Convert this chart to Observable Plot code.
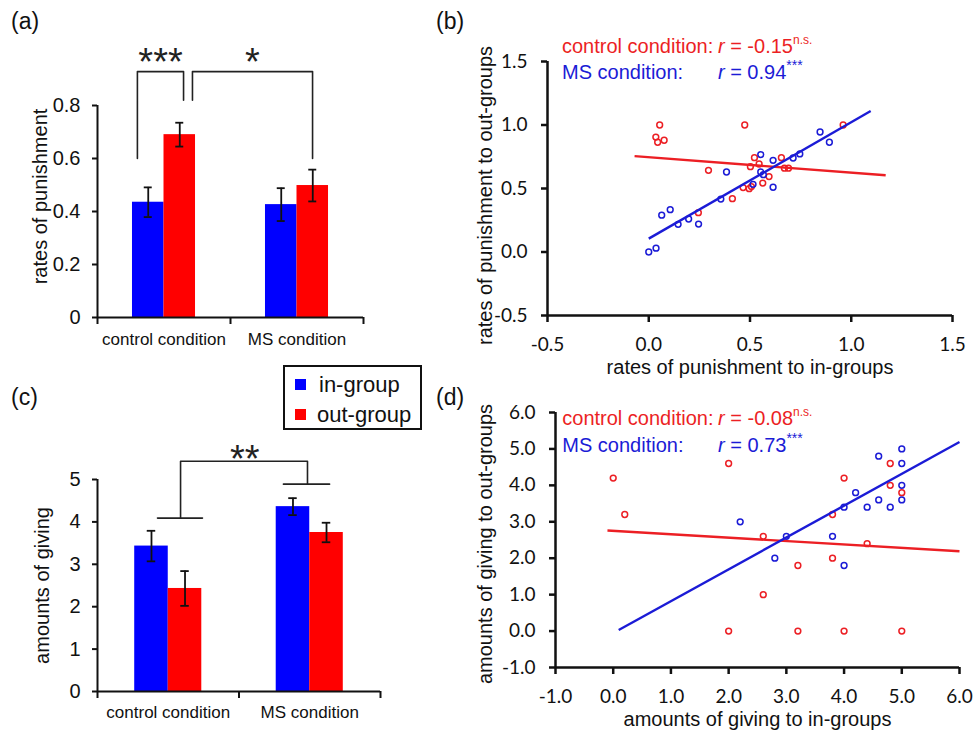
<!DOCTYPE html>
<html><head><meta charset="utf-8">
<script src="https://cdn.jsdelivr.net/npm/d3@7"></script>
<script src="https://cdn.jsdelivr.net/npm/@observablehq/plot@0.6"></script>
<style>
body{margin:0;background:#fff}
#fig{position:relative;width:977px;height:732px;overflow:hidden;font-family:"Liberation Sans",Arial,sans-serif;color:#111}
.plabel{position:absolute;font-size:23px;line-height:1.15}
#legend{position:absolute;left:283px;top:365px;width:139px;height:65px;border:2px solid #111;box-sizing:border-box;background:#fff}
#legend .sw{position:absolute;width:11px;height:11px}
#legend .lt{position:absolute;font-size:22px;line-height:1.15;white-space:nowrap}
</style></head>
<body><div id="fig"></div>
<script>
// ---------- data ----------
const conditions = ["control condition", "MS condition"];
const groups = ["in-group", "out-group"];
// (a) rates of punishment
const punishIn = [0.435, 0.426];
const punishInSE = [0.056, 0.062];
const punishOut = [0.690, 0.498];
const punishOutSE = [0.045, 0.060];
const punishTicks = [0, 0.2, 0.4, 0.6, 0.8];
// (c) amounts of giving
const givingIn = [3.43, 4.36];
const givingInSE = [0.36, 0.20];
const givingOut = [2.43, 3.75];
const givingOutSE = [0.41, 0.23];
const givingTicks = [0, 1, 2, 3, 4, 5];
// (b) punishment scatter
const bControlIn  = [0.054,0.035,0.044,0.076,0.474,0.960,0.295,0.413,0.245,0.522,0.545,0.502,0.655,0.594,0.563,0.466,0.496,0.507,0.670,0.690];
const bControlOut = [1.000,0.905,0.864,0.880,1.000,1.000,0.643,0.420,0.310,0.743,0.693,0.672,0.743,0.594,0.543,0.507,0.499,0.515,0.660,0.660];
const bMSIn  = [0.000,0.036,0.064,0.106,0.145,0.197,0.246,0.356,0.384,0.553,0.614,0.553,0.566,0.515,0.614,0.713,0.746,0.846,0.892];
const bMSOut = [0.000,0.030,0.290,0.333,0.218,0.260,0.220,0.417,0.630,0.767,0.722,0.630,0.609,0.533,0.510,0.740,0.772,0.945,0.864];
const bControlFit = {x: [-0.07, 1.17], y: [0.755, 0.604]};
const bMSFit = {x: [0.0, 1.096], y: [0.105, 1.11]};
const bTicks = [-0.5, 0, 0.5, 1.0, 1.5];
// (d) giving scatter
const dControlIn  = [0.0,0.2,2.0,2.6,2.6,3.2,3.8,3.8,4.0,4.4,4.8,4.8,5.0,2.0,3.2,4.0,5.0];
const dControlOut = [4.2,3.2,4.6,2.6,1.0,1.8,3.2,2.0,4.2,2.4,4.6,4.0,3.8,0.0,0.0,0.0,0.0];
const dMSIn  = [2.2,2.8,3.0,3.8,4.0,4.0,4.2,4.4,4.6,4.6,4.8,5.0,5.0,5.0,5.0];
const dMSOut = [3.0,2.0,2.6,2.6,1.8,3.4,3.8,3.4,3.6,4.8,3.4,5.0,4.6,4.0,3.6];
const dControlFit = {x: [-0.1, 6.0], y: [2.76, 2.19]};
const dMSFit = {x: [0.095, 6.0], y: [0.03, 5.19]};
const dTicks = [-1, 0, 1, 2, 3, 4, 5, 6];
// correlation annotations
const bStats = [{label: "control condition:", r: "-0.15", sig: "n.s."}, {label: "MS condition:", r: "0.94", sig: "***"}];
const dStats = [{label: "control condition:", r: "-0.08", sig: "n.s."}, {label: "MS condition:", r: "0.73", sig: "***"}];

// ---------- layout / style ----------
const RED = "#ff0000", BLUE = "#0000ff";
const SRED = "#ec1f24", SBLUE = "#1b1bd6";
const FONT = '"Liberation Sans", Arial, sans-serif';
const TICKFONT = 'Lato, "Open Sans", sans-serif';
const INK = "#111";
const HALF = 0.237, CAP = 0.03;
// significance brackets (in data coordinates)
const aBrackets = [[[0.30,0.60],[0.30,0.928],[0.647,0.928],[0.647,0.82]], [[0.714,0.82],[0.714,0.928],[1.617,0.928],[1.617,0.60]]];
const aStars = [{x: 0.474, y: 1.0, t: "***"}, {x: 1.165, y: 1.0, t: "*"}];
const cBrackets = [[[0.424,4.09],[0.742,4.09]], [[1.314,4.89],[1.64,4.89]], [[0.587,4.09],[0.587,5.43],[1.484,5.43],[1.484,4.89]]];
const cStars = [{x: 1.04, y: 5.71, t: "**"}];

const fig = document.getElementById("fig");

function place(el, left, top) {
  el.style.position = "absolute";
  el.style.left = left + "px";
  el.style.top = top + "px";
  el.style.maxWidth = "none";
  fig.appendChild(el);
}

function barPanel(o) {
  const rows = conditions.flatMap((c, i) => [
    {i, cond: c, group: groups[0], mean: o.inMean[i], se: o.inSE[i]},
    {i, cond: c, group: groups[1], mean: o.outMean[i], se: o.outSE[i]}
  ]);
  const left = d => d.i + 0.5 + (d.group === groups[0] ? -HALF : 0);
  const ctr = d => left(d) + HALF / 2;
  const bpts = o.brackets.flatMap((pts, id) => pts.map(([x, y]) => ({x, y, id})));
  return Plot.plot({
    width: o.width, height: o.height,
    marginLeft: o.ml, marginRight: o.mr, marginTop: o.mt, marginBottom: o.mb,
    x: {domain: [0, 2]},
    y: {domain: [0, o.yMax]},
    color: {domain: groups, range: [BLUE, RED]},
    style: {fontFamily: FONT, background: "transparent", overflow: "visible", color: INK},
    marks: [
      Plot.rectY(rows, {x1: left, x2: d => left(d) + HALF, y1: 0, y2: "mean", fill: "group"}),
      Plot.ruleX(rows, {x: ctr, y1: d => d.mean - d.se, y2: d => d.mean + d.se, stroke: INK, strokeWidth: 1.8}),
      Plot.ruleY(rows, {x1: d => ctr(d) - CAP, x2: d => ctr(d) + CAP, y: d => d.mean + d.se, stroke: INK, strokeWidth: 1.8}),
      Plot.ruleY(rows, {x1: d => ctr(d) - CAP, x2: d => ctr(d) + CAP, y: d => d.mean - d.se, stroke: INK, strokeWidth: 1.8}),
      Plot.ruleX([0], {y1: 0, y2: o.yMax, stroke: INK, strokeWidth: 2}),
      Plot.ruleY([0], {x1: 0, x2: 2, stroke: INK, strokeWidth: 2}),
      Plot.axisY({ticks: o.yTicks, tickFormat: o.fmt, tickSize: 5, tickPadding: 12, fontSize: 20, label: null, stroke: INK, strokeWidth: 2, fill: INK}),
      Plot.axisX({ticks: [0, 1, 2], tickSize: 7, tickFormat: () => "", label: null, stroke: INK, strokeWidth: 2}),
      Plot.axisX({ticks: [0.5, 1.5], tickSize: 0, tickPadding: o.catPad, tickFormat: d => conditions[Math.floor(d)], fontSize: 17, label: null, fill: INK}),
      Plot.text([o.yLabel], {text: d => d, frameAnchor: "left", textAnchor: "middle", rotate: -90, dx: o.tdx, dy: o.tdy, fontSize: 20, fill: INK}),
      Plot.line(bpts, {x: "x", y: "y", z: "id", stroke: "#222", strokeWidth: 1.6}),
      Plot.text(o.stars, {x: "x", y: "y", text: "t", fontSize: 38, dy: 10, fill: "#222"})
    ]
  });
}

function scatterPanel(o) {
  const pts = [
    ...o.ctrlX.map((x, i) => ({x, y: o.ctrlY[i], cond: "control"})),
    ...o.msX.map((x, i) => ({x, y: o.msY[i], cond: "MS"}))
  ];
  const fits = [
    {cond: "control", x1: o.ctrlFit.x[0], x2: o.ctrlFit.x[1], y1: o.ctrlFit.y[0], y2: o.ctrlFit.y[1]},
    {cond: "MS", x1: o.msFit.x[0], x2: o.msFit.x[1], y1: o.msFit.y[0], y2: o.msFit.y[1]}
  ];
  const [x0, x1] = o.xDomain, [y0, y1] = o.yDomain;
  const chart = Plot.plot({
    width: o.width, height: o.height,
    marginLeft: o.ml, marginRight: o.mr, marginTop: o.mt, marginBottom: o.mb,
    x: {domain: o.xDomain},
    y: {domain: o.yDomain},
    color: {domain: ["control", "MS"], range: [SRED, SBLUE]},
    style: {fontFamily: FONT, background: "transparent", overflow: "visible", color: INK},
    marks: [
      Plot.dot(pts, {x: "x", y: "y", stroke: "cond", r: 2.9, strokeWidth: 1.5}),
      Plot.link(fits, {x1: "x1", y1: "y1", x2: "x2", y2: "y2", stroke: "cond", strokeWidth: 2.4}),
      Plot.ruleX([x0], {y1: y0, y2: y1, stroke: INK, strokeWidth: 2.5}),
      Plot.ruleY([y0], {x1: x0, x2: x1, stroke: INK, strokeWidth: 2.5}),
      Plot.axisY({ticks: o.ticks, tickFormat: d => d.toFixed(1), tickSize: 6, tickPadding: 14, fontSize: 19, fontFamily: TICKFONT, label: null, stroke: INK, strokeWidth: 2.5, fill: INK}),
      Plot.axisX({ticks: o.ticks, tickFormat: d => d.toFixed(1), tickSize: 7, tickPadding: 15, fontSize: 19, fontFamily: TICKFONT, label: null, stroke: INK, strokeWidth: 2.5, fill: INK}),
      Plot.text([o.xTitle], {text: d => d, frameAnchor: "bottom", lineAnchor: "bottom", dy: 58, fontSize: 20, fill: INK}),
      Plot.text([o.yTitle], {text: d => d, frameAnchor: "left", textAnchor: "middle", rotate: -90, dx: o.tdx, dy: o.tdy, fontSize: 20, fill: INK})
    ]
  });
  // correlation annotations, positioned through the chart's scales
  const sx = chart.scale("x"), sy = chart.scale("y");
  const g = d3.select(chart).append("g").attr("font-family", FONT).attr("font-size", 20).attr("text-anchor", "start");
  o.stats.forEach((s, k) => {
    const col = k === 0 ? SRED : SBLUE;
    const yy = sy.apply(o.annY[k]);
    g.append("text").attr("x", sx.apply(o.annX)).attr("y", yy).attr("fill", col).text(s.label);
    const t = g.append("text").attr("x", sx.apply(o.annRX)).attr("y", yy).attr("fill", col);
    t.append("tspan").attr("font-style", "italic").text("r");
    t.append("tspan").text(" = " + s.r);
    t.append("tspan").attr("font-size", s.sig === "***" ? 14 : 12).attr("dy", -9).text(s.sig);
  });
  return chart;
}

// (a)
place(barPanel({
  width: 480, height: 360, ml: 97, mr: 117, mt: 105, mb: 43,
  inMean: punishIn, inSE: punishInSE, outMean: punishOut, outSE: punishOutSE,
  yMax: 0.8, yTicks: punishTicks, fmt: d => d === 0 ? "0" : d.toFixed(1),
  yLabel: "rates of punishment", tdx: -57, tdy: -15, catPad: 15,
  brackets: aBrackets, stars: aStars
}), 0, 0);

// (c)
place(barPanel({
  width: 480, height: 372, ml: 97, mr: 100, mt: 119, mb: 41,
  inMean: givingIn, inSE: givingInSE, outMean: givingOut, outSE: givingOutSE,
  yMax: 5, yTicks: givingTicks, fmt: d => String(d),
  yLabel: "amounts of giving", tdx: -55, tdy: 0, catPad: 14,
  brackets: cBrackets, stars: cStars
}), 0, 360);

// (b)
place(scatterPanel({
  width: 497, height: 380, ml: 67, mr: 25, mt: 61, mb: 65,
  xDomain: [-0.5, 1.5], yDomain: [-0.5, 1.5], ticks: bTicks,
  ctrlX: bControlIn, ctrlY: bControlOut, msX: bMSIn, msY: bMSOut,
  ctrlFit: bControlFit, msFit: bMSFit,
  xTitle: "rates of punishment to in-groups", yTitle: "rates of punishment to out-groups",
  tdx: -62, tdy: 7,
  stats: bStats, annX: -0.426, annRX: 0.344, annY: [1.565, 1.36]
}), 480, 0);

// (d)
place(scatterPanel({
  width: 497, height: 352, ml: 75, mr: 18, mt: 32, mb: 65,
  xDomain: [-1, 6], yDomain: [-1, 6], ticks: dTicks,
  ctrlX: dControlIn, ctrlY: dControlOut, msX: dMSIn, msY: dMSOut,
  ctrlFit: dControlFit, msFit: dMSFit,
  xTitle: "amounts of giving to in-groups", yTitle: "amounts of giving to out-groups",
  tdx: -70, tdy: 4,
  stats: dStats, annX: -0.874, annRX: 1.825, annY: [5.63, 4.915]
}), 480, 380);

// panel letters
[["(a)", 11, 8], ["(b)", 436, 8], ["(c)", 11, 384], ["(d)", 436, 384]].forEach(([t, l, tp]) => {
  const d = document.createElement("div");
  d.className = "plabel"; d.textContent = t;
  d.style.left = l + "px"; d.style.top = tp + "px";
  fig.appendChild(d);
});

// legend
const legend = document.createElement("div");
legend.id = "legend";
const swColors = [BLUE, RED];
groups.forEach((gname, k) => {
  const sw = document.createElement("div");
  sw.className = "sw"; sw.style.background = swColors[k];
  sw.style.left = "10px"; sw.style.top = (12 + 30 * k) + "px";
  const lt = document.createElement("div");
  lt.className = "lt"; lt.textContent = gname;
  lt.style.left = (k === 0 ? 34 : 32) + "px"; lt.style.top = (5 + 30 * k) + "px";
  legend.appendChild(sw); legend.appendChild(lt);
});
fig.appendChild(legend);
</script>
</body></html>
